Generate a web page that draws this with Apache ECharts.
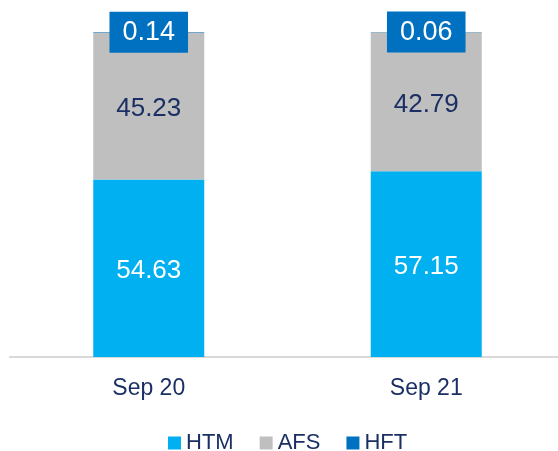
<!DOCTYPE html>
<html>
<head>
<meta charset="utf-8">
<script src="https://cdn.jsdelivr.net/npm/echarts@6/dist/echarts.min.js"></script>
<style>
  html, body { margin: 0; padding: 0; background: #fff; }
  #chart { width: 558px; height: 451px; }
</style>
</head>
<body>
<div id="chart"></div>
<script>
// Data
const categories = ["Sep 20", "Sep 21"];
const htm = [54.63, 57.15];
const afs = [45.23, 42.79];
const hft = [0.14, 0.06];

const navy = "#1a2f63";
const font = "Liberation Sans, Arial, sans-serif";

const chart = echarts.init(document.getElementById("chart"), null, { renderer: "canvas" });

chart.setOption({
  animation: false,
  textStyle: { fontFamily: font },
  grid: { left: 10, top: 32, width: 555, bottom: 94, outerBoundsMode: "none", containLabel: false },
  legend: {
    left: 163,
    top: 427,
    icon: "rect",
    itemWidth: 13,
    itemHeight: 13,
    itemGap: 26,
    itemTextGap: 2,
    textStyle: { fontSize: 22, color: navy, fontFamily: font },
    data: ["HTM", "AFS", "HFT"]
  },
  xAxis: {
    type: "category",
    data: categories,
    axisLine: { lineStyle: { color: "#d9d9d9", width: 2 } },
    axisTick: { show: false },
    axisLabel: { fontSize: 23, color: navy, margin: 20, fontFamily: font }
  },
  yAxis: {
    type: "value",
    min: 0,
    max: 100,
    show: false,
    splitLine: { show: false }
  },
  series: [
    {
      name: "HTM",
      type: "bar",
      stack: "total",
      data: htm,
      barWidth: 111,
      itemStyle: { color: "#00b0f0" },
      label: {
        show: true,
        position: "inside",
        offset: [0, 3],
        fontSize: 26,
        color: "#ffffff",
        fontFamily: font,
        formatter: p => p.value.toFixed(2)
      }
    },
    {
      name: "AFS",
      type: "bar",
      stack: "total",
      data: afs,
      barWidth: 111,
      itemStyle: { color: "#bfbfbf" },
      label: {
        show: true,
        position: "inside",
        offset: [0, 3],
        fontSize: 26,
        color: navy,
        fontFamily: font,
        formatter: p => p.value.toFixed(2)
      }
    },
    {
      name: "HFT",
      type: "bar",
      stack: "total",
      data: hft,
      barWidth: 111,
      itemStyle: { color: "#0070c0" },
      label: {
        show: true,
        position: "inside",
        fontSize: 27,
        color: "#ffffff",
        fontFamily: font,
        backgroundColor: "#0070c0",
        padding: [7, 13, 7, 13],
        formatter: p => p.value.toFixed(2)
      }
    }
  ]
});
</script>
</body>
</html>
